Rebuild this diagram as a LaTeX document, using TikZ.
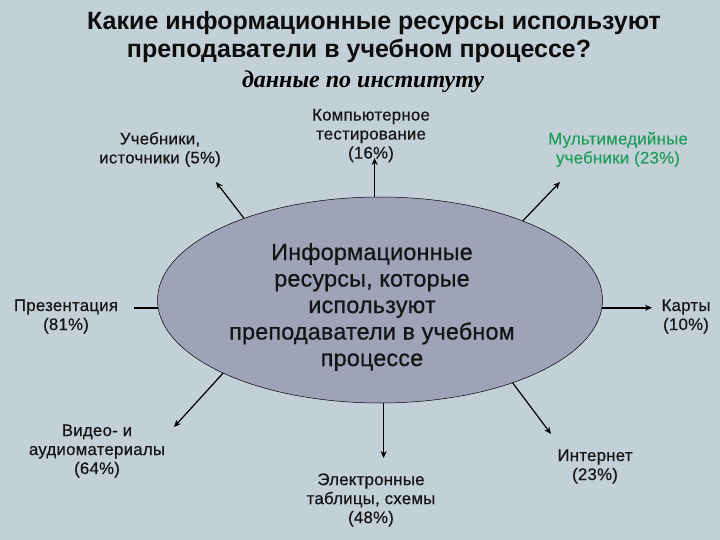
\documentclass[tikz,border=0pt]{standalone}
\usepackage{fontspec}
\setmainfont{Liberation Sans}
\newfontfamily\serifit{Liberation Serif}
\newfontfamily\lblf[FakeBold=0.4,LetterSpace=1.5]{Liberation Sans}
\newfontfamily\ellf[FakeBold=0.7,LetterSpace=1]{Liberation Sans}
\usetikzlibrary{shapes.geometric,arrows.meta}
\definecolor{bgc}{HTML}{C4D0D8}
\definecolor{ellc}{HTML}{9FA3B8}
\definecolor{grn}{HTML}{1E9E5A}
\tikzset{
 lbl/.style={align=center,inner sep=0pt,font=\lblf\fontsize{16.8}{19}\selectfont,text=black!92},
 conn/.style={line width=1.6pt,-{Stealth[length=7pt,width=6pt]}},
 thinconn/.style={conn,line width=1.2pt},
 ttl/.style={inner sep=0pt,font=\fontsize{25}{28}\bfseries\selectfont,text=black!95},
}
\begin{document}
\begin{tikzpicture}[x=1pt,y=-1pt]
\path[use as bounding box,fill=bgc] (0,0) rectangle (720,540);
\node[ttl] (t1) at (374,23) {Какие информационные ресурсы используют};
\node[ttl] (t2) at (359,51) {преподаватели в учебном процессе?};
\node[inner sep=0pt,font=\serifit\fontsize{24}{25}\bfseries\itshape\selectfont] (t3) at (363,82) {данные по институту};
\node[ellipse,draw=black,line width=0.5pt,fill=ellc,minimum width=445pt,minimum height=206pt,inner sep=0pt] (e) at (380,300) {};
\node[align=center,inner sep=0pt,font=\ellf\fontsize{23.3}{26.5}\selectfont,text=black!92] (et) at (372,307) {Информационные\\ресурсы, которые\\используют\\преподаватели в учебном\\процессе};
\node[lbl] (a) at (160,149.5) {Учебники,\\источники (5\%)};
\node[lbl] (b) at (371,135.5) {Компьютерное\\тестирование\\(16\%)};
\node[lbl,text=grn] (c) at (618,149.5) {Мультимедийные\\учебники (23\%)};
\node[lbl] (d) at (66,316.5) {Презентация\\(81\%)};
\node[lbl] (f) at (686,316.5) {Карты\\(10\%)};
\node[lbl] (g) at (97,451) {Видео- и\\аудиоматериалы\\(64\%)};
\node[lbl] (h) at (371,500) {Электронные\\таблицы, схемы\\(48\%)};
\node[lbl] (i) at (595,466.5) {Интернет\\(23\%)};
\coordinate (ea) at (216,182);
\coordinate (xb) at (375,158);
\coordinate (ec) at (560,182);
\coordinate (xd) at (134,308);
\coordinate (xf) at (652,308);
\coordinate (eg) at (174,427);
\coordinate (xh) at (383,458);
\coordinate (ei) at (551,434);
\draw[thinconn] (e.149) -- (ea);
\draw[conn] (e.93) -- (e.93 |- xb);
\draw[thinconn] (e.29) -- (ec);
\draw[line width=1.6pt] (e.182) -- (e.182 -| xd);
\draw[conn] (e.-2) -- (e.-2 -| xf);
\draw[thinconn] (e.205) -- (eg);
\draw[conn,line width=0.8pt] (e.272) -- (e.272 |- xh);
\draw[thinconn] (e.-32) -- (ei);
\end{tikzpicture}
\end{document}
